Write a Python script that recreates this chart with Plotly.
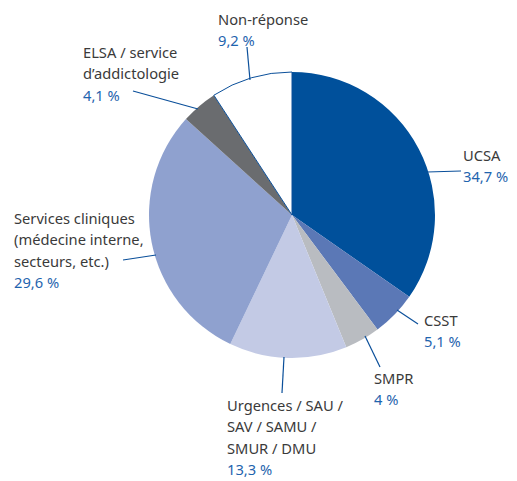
import plotly.graph_objects as go

# données
labels = ["UCSA", "CSST", "SMPR", "Urgences / SAU / SAV / SAMU / SMUR / DMU",
          "Services cliniques (médecine interne, secteurs, etc.)",
          "ELSA / service d'addictologie", "Non-réponse"]
values = [34.7, 5.1, 4.0, 13.3, 29.6, 4.1, 9.2]
pct_text = ["34,7 %", "5,1 %", "4 %", "13,3 %", "29,6 %", "4,1 %", "9,2 %"]
colors = ["#00509b", "#5b78b6", "#b9bcc1", "#c3cae5", "#8fa1cf", "#6a6c6f", "#ffffff"]

# libellés affichés (lignes)
label_lines = [
    ["UCSA"],
    ["CSST"],
    ["SMPR"],
    ["Urgences / SAU /", "SAV / SAMU /", "SMUR / DMU"],
    ["Services cliniques", "(médecine interne,", "secteurs, etc.)"],
    ["ELSA / service", "d\u2019addictologie"],
    ["Non-réponse"],
]

OFF = 8  # marge du body de la page
W, H = 517 - OFF, 481 - OFF
cx, cy, r = 292, 215, 143


def px(x, y):
    return (x - OFF) / W, 1 - (y - OFF) / H


fig = go.Figure()
x0d, y1d = px(cx - r, cy - r)
x1d, y0d = px(cx + r, cy + r)
fig.add_trace(go.Pie(
    labels=labels, values=values, sort=False, direction="clockwise",
    rotation=0, textinfo="none", hoverinfo="label+value",
    marker=dict(colors=colors,
                line=dict(color="#0a4f9a", width=[0, 0, 0, 0, 0, 0, 1])),
    domain=dict(x=[x0d, x1d], y=[y0d, y1d]),
    showlegend=False,
))

# positions des étiquettes (x gauche, y de la première ligne) et traits de rappel
label_pos = [(462, 144), (423, 309), (373, 367), (226, 394), (13, 207), (82, 41), (217, 8)]
leaders = [((427, 172), (461, 171)), ((397, 310), (418, 324)), ((365, 336), (380, 367)),
           ((284, 357), (282, 393)), ((156, 255), (123, 260)), ((198, 109), (133, 91)),
           ((250, 80), (247, 47))]

step = 21.3
annotations = []
shapes = []
for lines, pct, (x0, y0), (a, b) in zip(label_lines, pct_text, label_pos, leaders):
    for i, t in enumerate(lines + [pct]):
        xx, yy = px(x0, y0 + i * step)
        annotations.append(dict(
            x=xx, y=yy, xref="paper", yref="paper", xanchor="left", yanchor="top",
            text=t, showarrow=False, borderpad=0,
            font=dict(family="Noto Sans", size=14.7,
                      color="#1f64ae" if i == len(lines) else "#3a3a3a"),
        ))
    (xa, ya), (xb, yb) = px(*a), px(*b)
    shapes.append(dict(type="line", xref="paper", yref="paper", x0=xa, y0=ya, x1=xb, y1=yb,
                       line=dict(color="#0a4f9a", width=1.2)))

fig.update_layout(
    width=W, height=H, margin=dict(l=0, r=0, t=0, b=0),
    paper_bgcolor="white", plot_bgcolor="white",
    annotations=annotations, shapes=shapes,
)

fig.write_html("out.html")
